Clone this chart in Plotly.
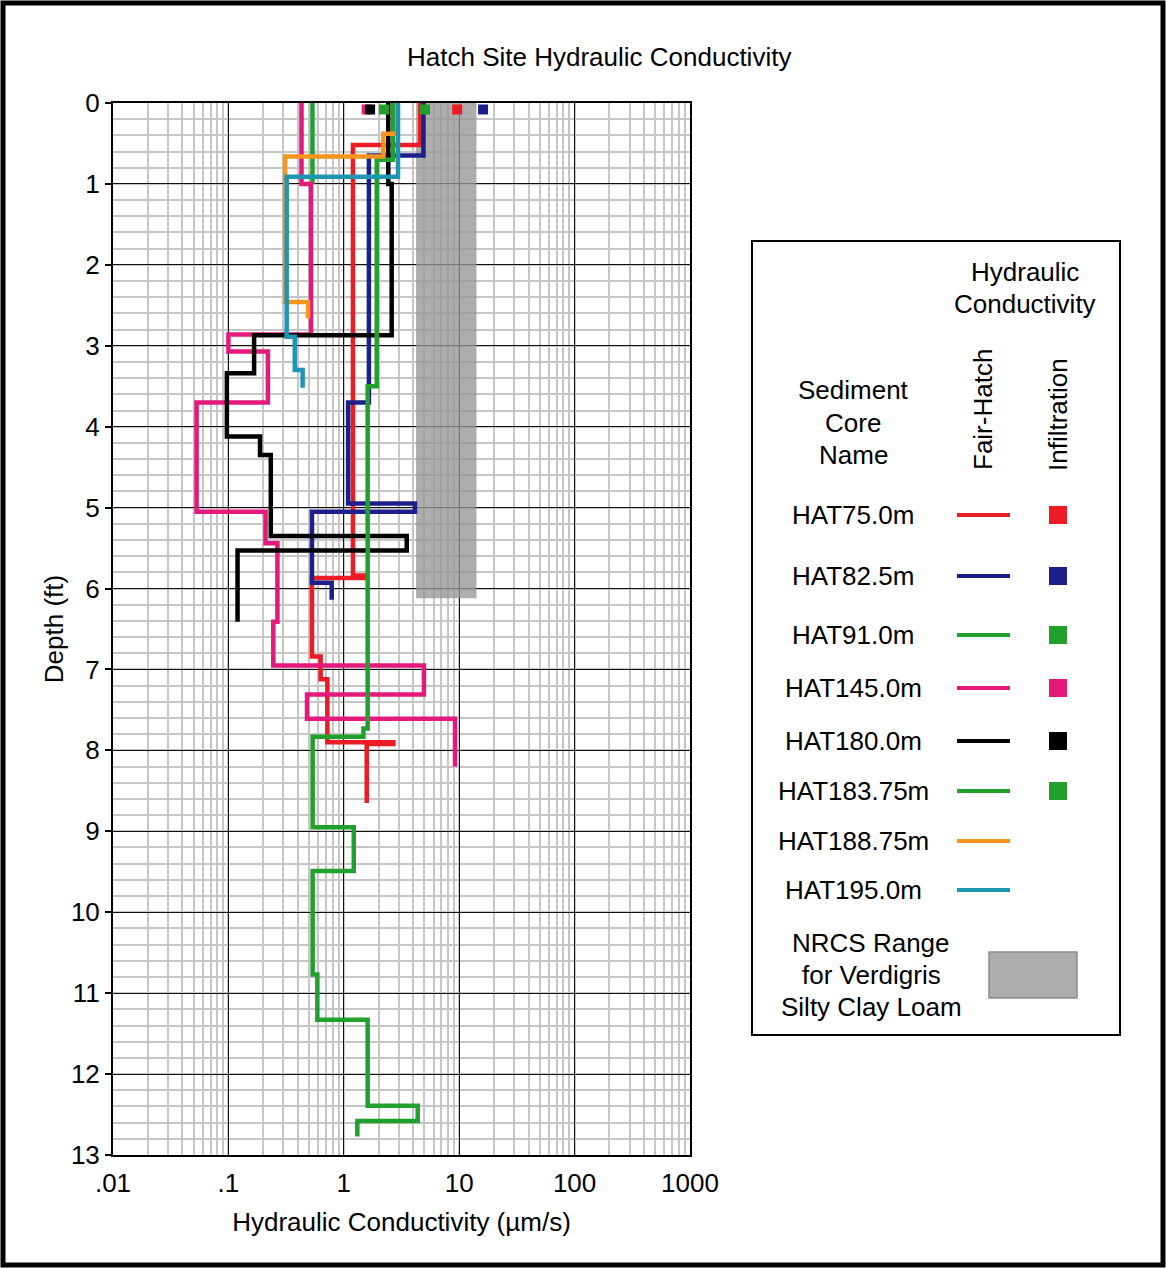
import plotly.graph_objects as go

# ---- Fair-Hatch profiles: layer boundaries (ft) and conductivity of each layer (um/s)
hat75_depth = [0, 0.52, 5.84, 5.87, 6.84, 7.12, 7.90, 7.92, 8.65]
hat75_k = [4.6, 1.2, 1.53, 0.53, 0.63, 0.72, 2.69, 1.58]

hat82_depth = [0, 0.65, 3.70, 4.95, 5.05, 5.93, 6.14]
hat82_k = [4.9, 1.65, 1.09, 4.14, 0.53, 0.785]

hat91_depth = [0, 1.0]
hat91_k = [0.535]

hat145_depth = [0, 1.0, 2.86, 3.07, 3.70, 5.05, 5.44, 6.41, 6.95, 7.31, 7.61, 8.20]
hat145_k = [0.43, 0.52, 0.10, 0.22, 0.053, 0.21, 0.266, 0.245, 4.95, 0.48, 9.2]

hat180_depth = [0, 1.0, 2.87, 3.34, 4.12, 4.35, 5.35, 5.53, 6.41]
hat180_k = [2.43, 2.6, 0.167, 0.097, 0.188, 0.233, 3.51, 0.12]

hat183_depth = [0, 0.70, 3.50, 7.73, 7.83, 8.95, 9.49, 10.77, 11.33, 12.39, 12.58, 12.77]
hat183_k = [2.67, 1.93, 1.61, 1.48, 0.537, 1.22, 0.537, 0.59, 1.61, 4.37, 1.31]

hat188_depth = [0, 0.38, 0.66, 2.46, 2.66]
hat188_k = [2.9, 2.2, 0.31, 0.49]

hat195_depth = [0, 0.91, 2.89, 3.30, 3.52]
hat195_k = [2.95, 0.32, 0.376, 0.44]

core_names = ["HAT75.0m", "HAT82.5m", "HAT91.0m", "HAT145.0m", "HAT180.0m",
              "HAT183.75m", "HAT188.75m", "HAT195.0m"]
core_colors = ["#ec1c24", "#1c1f8a", "#22a02e", "#e3197c", "#000000",
               "#22a02e", "#f7941d", "#1e96b2"]

# ---- Surface infiltration tests (um/s)
infil_names = ["HAT75.0m", "HAT82.5m", "HAT91.0m", "HAT145.0m", "HAT180.0m", "HAT183.75m"]
infil_k = [9.6, 16.1, 2.23, 1.58, 1.69, 5.06]
infil_depth = [0.08, 0.08, 0.08, 0.08, 0.08, 0.08]

# ---- NRCS saturated conductivity range for Verdigris silty clay loam
nrcs_k_low, nrcs_k_high = 4.23, 14.11
nrcs_depth = 6.12

x_tickvals = [0.01, 0.1, 1, 10, 100, 1000]
x_ticktext = [".01", ".1", "1", "10", "100", "1000"]
y_tickvals = list(range(0, 14))

FONT = "Liberation Sans, Arial, sans-serif"
FS = 26
W, H = 1166, 1268
L, R, T, B = 113, 690, 103, 1155


def px2x(px):
    return (px - L) / (R - L)


def py2y(py):
    return (B - py) / (B - T)


def step_path(depth, k):
    xs, ys = [], []
    for i, v in enumerate(k):
        xs += [v, v]
        ys += [depth[i], depth[i + 1]]
    return xs, ys


profiles = [
    (hat75_depth, hat75_k), (hat82_depth, hat82_k), (hat91_depth, hat91_k),
    (hat145_depth, hat145_k), (hat180_depth, hat180_k), (hat183_depth, hat183_k),
    (hat188_depth, hat188_k), (hat195_depth, hat195_k),
]

fig = go.Figure()

# NRCS range band
fig.add_trace(go.Scatter(
    x=[nrcs_k_low, nrcs_k_high, nrcs_k_high, nrcs_k_low, nrcs_k_low],
    y=[0, 0, nrcs_depth, nrcs_depth, 0],
    fill="toself", fillcolor="rgba(150,150,150,0.78)",
    mode="lines", line=dict(width=0), hoverinfo="skip", showlegend=False,
))

for (depth, k), name, color in zip(profiles, core_names, core_colors):
    xs, ys = step_path(depth, k)
    fig.add_trace(go.Scatter(
        x=xs, y=ys, mode="lines", name=name,
        line=dict(color=color, width=4.5), showlegend=False,
    ))

infil_colors = [core_colors[core_names.index(n)] for n in infil_names]
fig.add_trace(go.Scatter(
    x=infil_k, y=infil_depth, mode="markers", text=infil_names,
    marker=dict(symbol="square", size=10, color=infil_colors, line=dict(width=0)),
    showlegend=False, cliponaxis=False,
))

shapes = []
annotations = []

# page frame
shapes.append(dict(type="rect", xref="paper", yref="paper",
                   x0=px2x(3), x1=px2x(1163), y0=py2y(3), y1=py2y(1265),
                   line=dict(color="black", width=5)))

# legend box
shapes.append(dict(type="rect", xref="paper", yref="paper",
                   x0=px2x(752), x1=px2x(1120), y0=py2y(241), y1=py2y(1035),
                   line=dict(color="black", width=2), fillcolor="white"))


def text(px, py, s, angle=0, size=FS):
    annotations.append(dict(xref="paper", yref="paper", x=px2x(px), y=py2y(py),
                            text=s, showarrow=False, textangle=angle,
                            xanchor="center", yanchor="middle",
                            font=dict(family=FONT, size=size, color="black")))


text(599, 57, "Hatch Site Hydraulic Conductivity")
text(1025, 272, "Hydraulic")
text(1025, 304, "Conductivity")
text(853, 390, "Sediment")
text(853, 423, "Core")
text(853, 455, "Name")
text(983, 410, "Fair-Hatch", angle=-90)
text(1058, 415, "Infiltration", angle=-90)

row_y = [515, 576, 635, 688, 741, 791, 841, 890]
for name, color, yy in zip(core_names, core_colors, row_y):
    text(853, yy, name)
    shapes.append(dict(type="line", xref="paper", yref="paper",
                       x0=px2x(957), x1=px2x(1010), y0=py2y(yy), y1=py2y(yy),
                       line=dict(color=color, width=4)))
    if name in infil_names:
        shapes.append(dict(type="rect", xref="paper", yref="paper",
                           x0=px2x(1049), x1=px2x(1067), y0=py2y(yy - 9), y1=py2y(yy + 9),
                           line=dict(width=0), fillcolor=color))

text(871, 943, "NRCS Range")
text(871, 975, "for Verdigris")
text(871, 1007, "Silty Clay Loam")
shapes.append(dict(type="rect", xref="paper", yref="paper",
                   x0=px2x(989), x1=px2x(1077), y0=py2y(952), y1=py2y(998),
                   line=dict(color="#8c8c8c", width=1.5), fillcolor="#adadad"))

fig.update_layout(
    width=W, height=H,
    margin=dict(l=L, r=W - R, t=T, b=H - B, pad=0),
    paper_bgcolor="white", plot_bgcolor="white",
    font=dict(family=FONT, size=FS, color="black"),
    shapes=shapes, annotations=annotations,
    showlegend=False,
)

fig.update_xaxes(
    type="log", range=[-2, 3],
    tickmode="array", tickvals=x_tickvals, ticktext=x_ticktext,
    ticks="", ticklabelstandoff=4,
    tickfont=dict(family=FONT, size=FS),
    showgrid=True, gridcolor="#111111", gridwidth=1.2,
    minor=dict(dtick="D1", showgrid=True, gridcolor="#c6c6c6", gridwidth=1.6),
    showline=True, linecolor="black", linewidth=2, mirror=True,
    zeroline=False,
    title=dict(text="Hydraulic Conductivity (µm/s)", standoff=16,
               font=dict(family=FONT, size=FS)),
)

fig.update_yaxes(
    range=[13, 0],
    tickmode="array", tickvals=y_tickvals,
    ticks="outside", ticklen=6, tickwidth=1.5, tickcolor="black",
    tickfont=dict(family=FONT, size=FS),
    showgrid=True, gridcolor="#111111", gridwidth=1.2,
    minor=dict(dtick=0.2, showgrid=True, gridcolor="#c6c6c6", gridwidth=1.6),
    showline=True, linecolor="black", linewidth=2, mirror=True,
    zeroline=False,
    title=dict(text="Depth (ft)", standoff=0, font=dict(family=FONT, size=FS)),
)

fig.write_html("out.html")
